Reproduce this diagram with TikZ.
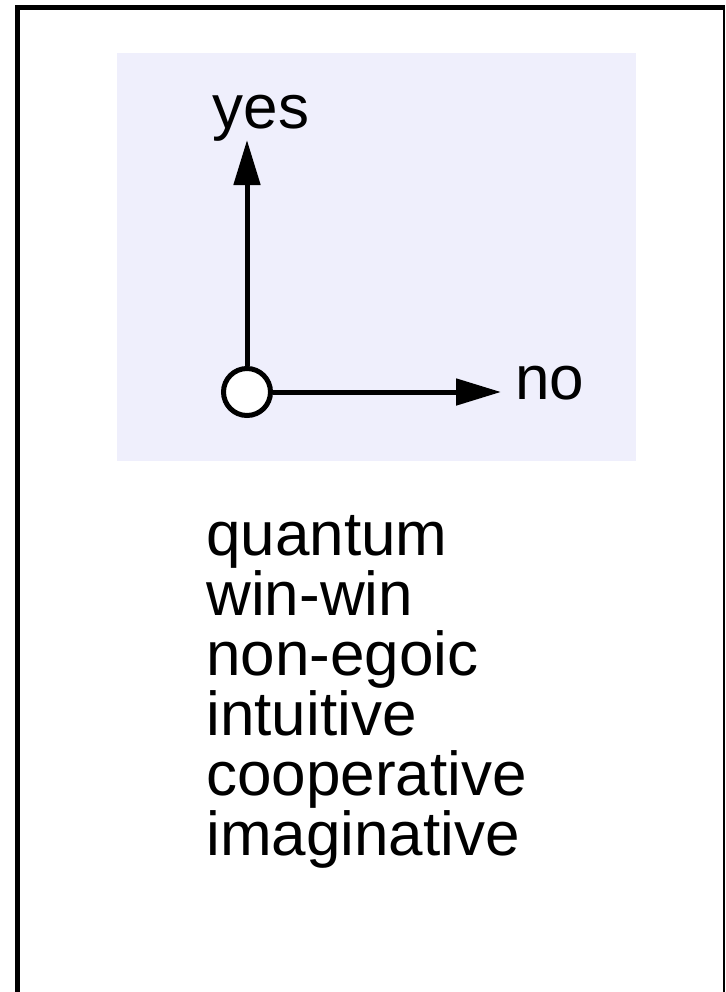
\documentclass[tikz,border=0pt]{standalone}
\usepackage{fontspec}
\setmainfont{Liberation Sans}
\usetikzlibrary{arrows.meta, positioning}
\definecolor{axisbg}{RGB}{239,239,252}

\begin{document}
\begin{tikzpicture}[x=0.5pt, y=-0.5pt,
            lbl/.style={inner sep=0pt, font=\fontsize{31}{30}\selectfont},
            org/.style={circle, draw=black, fill=white, line width=2.5pt, minimum size=23.5pt, inner sep=0pt},
            ax/.style={draw=black, line width=2.5pt, -{Triangle[length=22.5pt, width=13pt]}}]
            \useasboundingbox (0,0) rectangle (725,992);
            % frame and shaded panel
            \draw[line width=2.5pt] (17.5,992) -- (17.5,7.5) -- (725,7.5);
            \draw[line width=1pt] (723.5,7.5) -- (723.5,992);
            \fill[axisbg] (117,53) rectangle (636,461);
            % axes
            \node[org] (o) at (247,392) {};
            \coordinate (ytip) at (247,140);
            \coordinate (xtip) at (501,392);
            \draw[ax] (o.north) -- (ytip);
            \draw[ax] (o.east) -- (xtip);
            \node[lbl, anchor=base] (yes) at (261,128) {yes};
            \node[lbl, anchor=base west] (no) at (515,399) {no};
            % word list
            \node[lbl, align=left, anchor=north west] (words) at (206,515)
                {quantum\\win-win\\non-egoic\\intuitive\\cooperative\\imaginative};
\end{tikzpicture}
\end{document}
